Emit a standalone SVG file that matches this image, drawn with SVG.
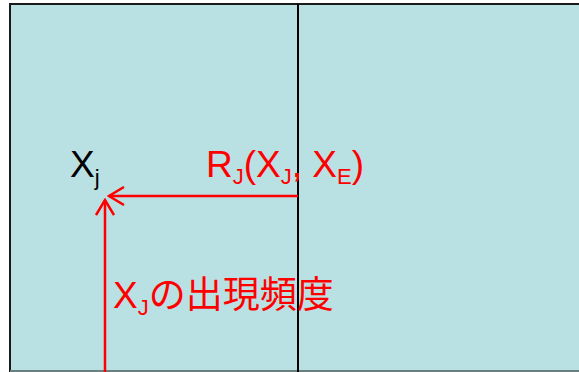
<svg xmlns="http://www.w3.org/2000/svg" width="579" height="372" viewBox="0 0 579 372">
<defs>
<style>
.t{font-family:"Liberation Sans","Noto Sans CJK JP",sans-serif;font-size:37px}
.red{fill:#FF0000}
.sub{font-size:22px}
.conn{stroke:#FF0000;stroke-width:2.5;fill:none}
</style>
<marker id="ah" viewBox="0 0 20 20" refX="18" refY="10" markerWidth="20" markerHeight="20" markerUnits="userSpaceOnUse" orient="auto">
<path d="M3,1 L18,10 L3,19" stroke="#FF0000" stroke-width="2.5" fill="none"/>
</marker>
</defs>
<rect width="579" height="372" fill="#FFFFFF"/>
<g id="panel">
<rect x="10" y="4" width="600" height="367" fill="#B9E0E3" stroke="#1a1a1a" stroke-width="2"/>
<line x1="10" y1="371" x2="579" y2="371" stroke="#6b7f80" stroke-width="2"/>
<line x1="298" y1="4" x2="298" y2="372" stroke="#000" stroke-width="2"/>
</g>
<g id="connectors">
<line class="conn" x1="298" y1="196" x2="109" y2="196" marker-end="url(#ah)"/>
<line class="conn" x1="105" y1="372" x2="105" y2="200" marker-end="url(#ah)"/>
</g>
<g id="xj">
<text class="t" x="70" y="177">X<tspan class="sub" dy="8">j</tspan></text>
</g>
<g id="rj">
<text class="t red" x="206" y="177">R<tspan class="sub" dy="7">J</tspan><tspan dy="-7">(X</tspan><tspan class="sub" dy="7">J</tspan><tspan dy="-7">, X</tspan><tspan class="sub" dy="7">E</tspan><tspan dy="-7">)</tspan></text>
</g>
<g id="freq">
<text class="t red" x="113" y="308">X<tspan class="sub" dy="7">J</tspan><tspan dy="-7">の出現頻度</tspan></text>
</g>
</svg>
